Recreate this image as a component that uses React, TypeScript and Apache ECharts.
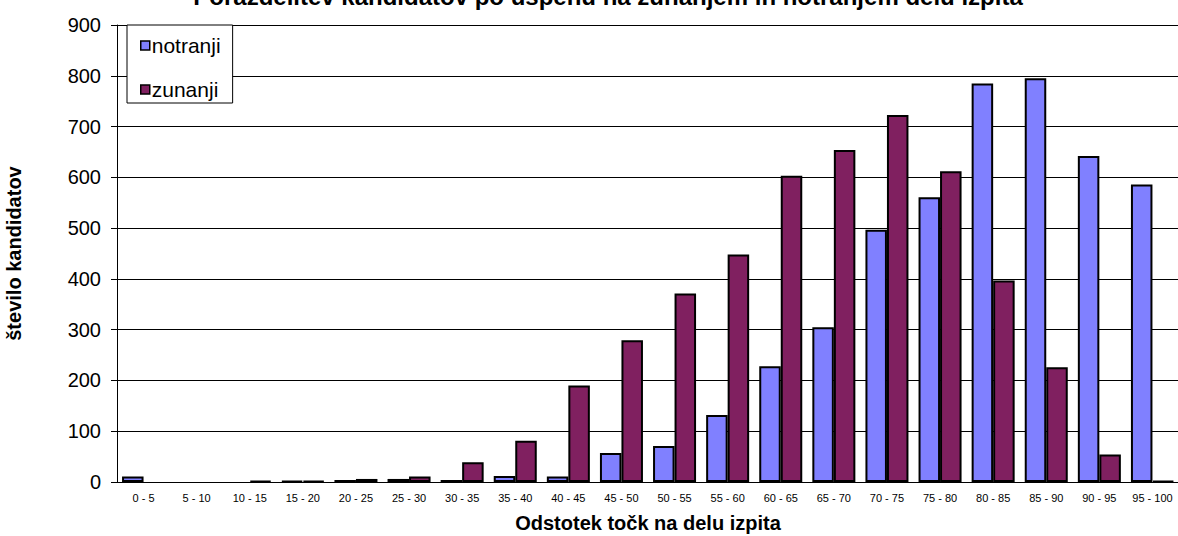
import React, { useEffect, useRef } from "react";
import * as echarts from "echarts";

const categories = ["0 - 5","5 - 10","10 - 15","15 - 20","20 - 25","25 - 30","30 - 35","35 - 40","40 - 45","45 - 50","50 - 55","55 - 60","60 - 65","65 - 70","70 - 75","75 - 80","80 - 85","85 - 90","90 - 95","95 - 100"];
const notranji = [11,0,0,2,4,6,4,12,11,57,71,132,228,305,497,561,785,795,642,586];
const zunanji = [0,0,2,2,6,11,39,81,190,279,371,448,603,654,723,612,397,226,54,2];
const seriesNames = ["notranji", "zunanji"];
const titleText = "Porazdelitev kandidatov po uspehu na zunanjem in notranjem delu izpita";
const xTitle = "Odstotek točk na delu izpita";
const yTitle = "število kandidatov";

const noZero = (arr: number[]) => arr.map((v) => (v === 0 ? "-" : v));

export default function App() {
  const ref = useRef<HTMLDivElement>(null);
  useEffect(() => {
    if (!ref.current) return;
    const chart = echarts.init(ref.current, null, { renderer: "svg" });
    const font = "Liberation Sans, Arial, sans-serif";
    chart.setOption({
      animation: false,
      backgroundColor: "#ffffff",
      textStyle: { fontFamily: font, color: "#000" },
      grid: { left: 117, right: -1, top: 25, bottom: 54, containLabel: false, outerBoundsMode: "none" },
      graphic: [
        {
          type: "text",
          x: 608,
          y: 8,
          style: {
            text: titleText,
            fill: "#000",
            font: "bold 24px " + font,
            textAlign: "center",
            textVerticalAlign: "bottom",
          },
        },
      ],
      legend: {
        orient: "vertical",
        left: 127,
        top: 25,
        icon: "rect",
        itemWidth: 9,
        itemHeight: 9,
        itemGap: 23,
        backgroundColor: "#fff",
        borderColor: "#000",
        borderWidth: 1,
        padding: [10, 12, 3, 13],
        itemStyle: { borderColor: "#000", borderWidth: 1.5 },
        textStyle: { fontFamily: font, fontSize: 21, color: "#000", lineHeight: 16, padding: [0, 0, 0, -3] },
        data: seriesNames,
        z: 10,
      },
      xAxis: {
        type: "category",
        data: categories,
        name: xTitle,
        nameLocation: "middle",
        nameGap: 31,
        nameTextStyle: { fontFamily: font, fontSize: 20, fontWeight: "bold", color: "#000" },
        axisLine: { lineStyle: { color: "#000", width: 1 } },
        axisTick: { length: 5, lineStyle: { color: "#000" } },
        axisLabel: { interval: 0, fontSize: 11, color: "#000", margin: 10, fontFamily: font },
      },
      yAxis: {
        type: "value",
        min: 0,
        max: 900,
        interval: 100,
        name: yTitle,
        nameLocation: "middle",
        nameGap: 93,
        nameTextStyle: { fontFamily: font, fontSize: 20, fontWeight: "bold", color: "#000" },
        axisLine: { show: true, lineStyle: { color: "#000", width: 1 } },
        axisTick: { show: true, length: 6, lineStyle: { color: "#000" } },
        axisLabel: { fontSize: 20, color: "#000", margin: 16, fontFamily: font },
        splitLine: { lineStyle: { color: "#000", width: 1 } },
      },
      series: [
        {
          name: seriesNames[0],
          type: "bar",
          data: noZero(notranji),
          barGap: "0%",
          barCategoryGap: "19%",
          itemStyle: { color: "#8080FF", borderColor: "#000", borderWidth: 2 },
        },
        {
          name: seriesNames[1],
          type: "bar",
          data: noZero(zunanji),
          barGap: "0%",
          barCategoryGap: "19%",
          itemStyle: { color: "#802060", borderColor: "#000", borderWidth: 2 },
        },
      ],
    });
    return () => chart.dispose();
  }, []);
  return (
    <div
      ref={ref}
      style={{ position: "fixed", left: 0, top: 0, width: 1178, height: 536 }}
    />
  );
}
